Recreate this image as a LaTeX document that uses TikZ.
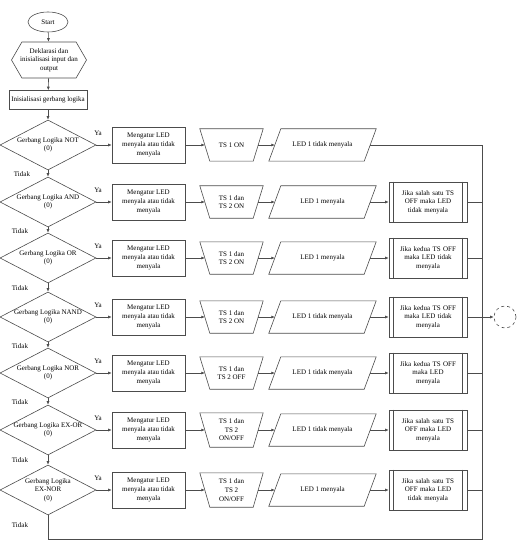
\documentclass[tikz,border=0pt]{standalone}
\usepackage{fontspec}
\setmainfont{Liberation Serif}
\usetikzlibrary{shapes.geometric,shapes.symbols,arrows.meta,calc}
\definecolor{linec}{gray}{0.3}
\begin{document}
\begin{tikzpicture}[x=1pt,y=-1pt,
 ln/.style={draw=linec, line width=0.6pt},
 arr/.style={ln, -{Latex[length=3.5pt,width=3pt]}},
 txt/.style={font=\fontsize{7}{8.6}\selectfont, align=center, text=black},
 term/.style={ln, txt, ellipse, minimum width=40pt, minimum height=20pt, inner sep=0pt},
 prep/.style={ln, signal, signal to=west and east, signal pointer angle=120, minimum width=75pt, minimum height=36pt, inner sep=0pt},
 proc/.style={ln, txt, rectangle, inner sep=1pt},
 dec/.style={ln, diamond, minimum width=96pt, minimum height=50pt, inner sep=0pt},
 man/.style={txt, rectangle, minimum width=63pt, minimum height=32pt, inner sep=0pt},
 io/.style={txt, rectangle, minimum width=107pt, minimum height=32pt, inner sep=0pt},
 pre/.style={ln, txt, rectangle, minimum width=78pt, minimum height=40pt, text width=66pt, inner sep=0pt},
 lab/.style={txt, inner sep=0pt},
 endc/.style={ln, dashed, circle, minimum size=22pt, inner sep=0pt}
]
\useasboundingbox (0,0) rectangle (519,545);

% top part
\node[term] (start) at (48,22) {Start};
\node[prep] (prep) at (49,60) {};
\node[txt] (prept) at (prep) {Deklarasi dan\\inisialisasi input dan\\output};
\node[proc, minimum width=78pt, minimum height=19pt] (init) at (48,100) {Inisialisasi gerbang logika};

% decisions
\node[dec] (d1) at (48,145) {};
\node[txt] (d1t) at (d1) {Gerbang Logika NOT\\(0)};
\node[dec] (d2) at (48,202) {};
\node[txt] (d2t) at (d2) {Gerbang Logika AND\\(0)};
\node[dec] (d3) at (48,258) {};
\node[txt] (d3t) at (d3) {Gerbang Logika OR\\(0)};
\node[dec] (d4) at (48,317) {};
\node[txt] (d4t) at (d4) {Gerbang Logika NAND\\(0)};
\node[dec] (d5) at (48,373) {};
\node[txt] (d5t) at (d5) {Gerbang Logika NOR\\(0)};
\node[dec] (d6) at (48,430) {};
\node[txt] (d6t) at (d6) {Gerbang Logika EX-OR\\(0)};
\node[dec] (d7) at (48,490) {};
\node[txt] (d7t) at (d7) {Gerbang Logika\\EX-NOR\\(0)};

% process boxes
\foreach \i/\y in {1/145,2/202,3/258,4/317,5/373,6/430,7/490}{
  \node[proc, minimum width=73pt, minimum height=36pt] (m\i) at (148.5,\y) {Mengatur LED\\menyala atau tidak\\menyala};
}

% manual operations
\node[man] (t1) at (231.5,145) {TS 1 ON};
\node[man] (t2) at (231.5,202) {TS 1 dan\\TS 2 ON};
\node[man] (t3) at (231.5,258) {TS 1 dan\\TS 2 ON};
\node[man] (t4) at (231.5,317) {TS 1 dan\\TS 2 ON};
\node[man] (t5) at (231.5,373) {TS 1 dan\\TS 2 OFF};
\node[man, minimum height=34pt] (t6) at (231.5,430) {TS 1 dan\\TS 2\\ON/OFF};
\node[man, minimum height=34pt] (t7) at (231.5,490) {TS 1 dan\\TS 2\\ON/OFF};
\foreach \n in {t1,t2,t3,t4,t5,t6,t7}{
  \draw[ln] (\n.north west) -- (\n.north east) -- ($(\n.south east)+(-10,0)$) -- ($(\n.south west)+(10,0)$) -- cycle;
}

% outputs
\node[io] (p1) at (322.5,145) {LED 1 tidak menyala};
\node[io] (p2) at (322.5,202) {LED 1 menyala};
\node[io] (p3) at (322.5,258) {LED 1 menyala};
\node[io] (p4) at (322.5,317) {LED 1 tidak menyala};
\node[io] (p5) at (322.5,373) {LED 1 tidak menyala};
\node[io] (p6) at (322.5,430) {LED 1 tidak menyala};
\node[io] (p7) at (322.5,490) {LED 1 menyala};
\foreach \n in {p1,p2,p3,p4,p5,p6,p7}{
  \draw[ln] (\n.south west) -- ($(\n.north west)+(12,0)$) -- (\n.north east) -- ($(\n.south east)+(-12,0)$) -- cycle;
}

% predefined processes
\node[pre] (b2) at (428,202) {Jika salah satu TS\\OFF maka LED\\tidak menyala};
\node[pre] (b3) at (428,258) {Jika kedua TS OFF\\maka LED tidak\\menyala};
\node[pre] (b4) at (428,317) {Jika kedua TS OFF\\maka LED tidak\\menyala};
\node[pre] (b5) at (428,373) {Jika kedua TS OFF\\maka LED\\menyala};
\node[pre] (b6) at (428,430) {Jika salah satu TS\\OFF maka LED\\menyala};
\node[pre] (b7) at (428,490) {Jika salah satu TS\\OFF maka LED\\tidak menyala};
\foreach \n in {b2,b3,b4,b5,b6,b7}{
  \draw[ln] ($(\n.north west)+(5,0)$) -- ($(\n.south west)+(5,0)$)
            ($(\n.north east)+(-5,0)$) -- ($(\n.south east)+(-5,0)$);
}

% end connector
\node[endc] (end) at (505,317) {};

% junction coordinates
\coordinate (jT) at (482,145);
\coordinate (jB) at (482,539);

% connectors
\draw[arr] (start) -- (prep);
\draw[arr] (prep) -- (init);
\draw[arr] (init) -- (d1);
\draw[arr] (d1) -- (d2);
\draw[arr] (d2) -- (d3);
\draw[arr] (d3) -- (d4);
\draw[arr] (d4) -- (d5);
\draw[arr] (d5) -- (d6);
\draw[arr] (d6) -- (d7);
\foreach \i in {1,...,7}{
  \draw[arr] (d\i.east) -- (m\i);
  \draw[arr] (m\i) -- ($(t\i.west)+(5,0)$);
  \draw[arr] ($(t\i.east)+(-5,0)$) -- ($(p\i.west)+(6,0)$);
}
\foreach \i in {2,...,7}{
  \draw[arr] ($(p\i.east)+(-6,0)$) -- (b\i);
}
\foreach \i in {2,3,5,6,7}{
  \draw[ln] (b\i.east) -- (b\i.east -| jT);
}
\draw[arr] (b4) -- (end);
\draw[ln] ($(p1.east)+(-6,0)$) -- (jT) -- (jB) -| (d7.south);

% labels
\foreach \i/\y in {1/145,2/202,3/258,4/317,5/373,6/430,7/490}{
  \node[lab] (ya\i) at (98,\y-12) {Ya};
}
\node[lab] (n1) at (22,174) {Tidak};
\node[lab] (n2) at (20,231) {Tidak};
\node[lab] (n3) at (20,288) {Tidak};
\node[lab] (n4) at (20,346) {Tidak};
\node[lab] (n5) at (20,402) {Tidak};
\node[lab] (n6) at (20,460) {Tidak};
\node[lab] (n7) at (20,525) {Tidak};
\end{tikzpicture}
\end{document}
